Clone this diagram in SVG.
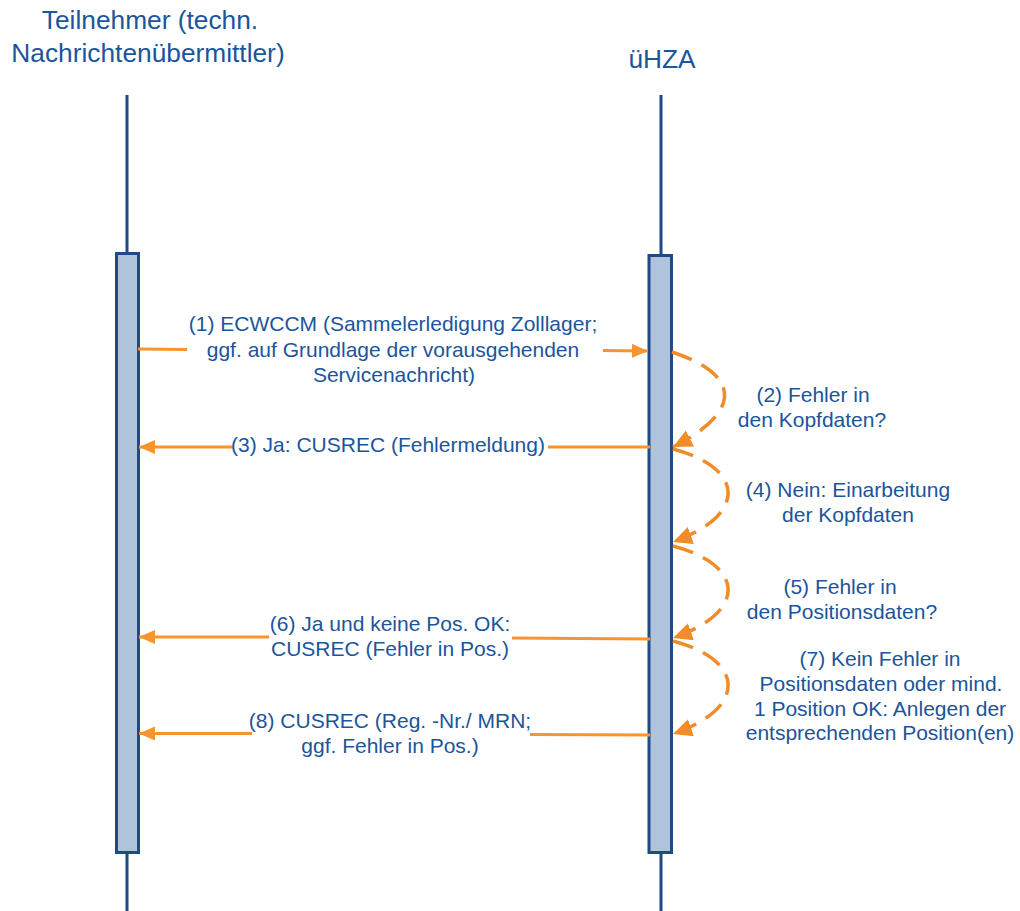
<svg xmlns="http://www.w3.org/2000/svg" width="1020" height="911" viewBox="0 0 1020 911">
<style>
.t{font-family:"Liberation Sans",Arial,sans-serif;fill:#1B559B;text-anchor:middle}
.h{font-size:26.3px}
.b{font-size:21px}
.life{stroke:#1F4A85;stroke-width:3;fill:none}
.bar{fill:#AFC3DC;stroke:#1F4A85;stroke-width:3}
.msg{stroke:#F7942F;stroke-width:3;fill:none}
.self{stroke:#F28C28;stroke-width:3.5;fill:none;stroke-dasharray:21 11}
</style>
<defs>
<marker id="ah" markerUnits="userSpaceOnUse" markerWidth="18" markerHeight="16" refX="16" refY="7" orient="auto">
<path d="M0,0 L16,7 L0,14 z" fill="#F7942F"/>
</marker>
<marker id="ah2" markerUnits="userSpaceOnUse" markerWidth="22" markerHeight="20" refX="19" refY="9" orient="auto">
<path d="M0,0 L19,9 L0,18 z" fill="#F28C28"/>
</marker>
</defs>
<g id="teilnehmer">
<line class="life" x1="127" y1="95" x2="127" y2="911"/>
<rect class="bar" x="116.5" y="253.5" width="22" height="599"/>
<text class="t h" x="150" y="29">Teilnehmer (techn.</text>
<text class="t h" x="148" y="62">Nachrichtenübermittler)</text>
</g>
<g id="uhza">
<line class="life" x1="661" y1="95" x2="661" y2="911"/>
<rect class="bar" x="649" y="255.5" width="22.5" height="597"/>
<text class="t h" x="662" y="68">üHZA</text>
</g>
<g id="connectors">
<path class="msg" d="M138,349 L187,349.4"/>
<path class="msg" d="M603,350.5 L648,351" marker-end="url(#ah)"/>
<path class="msg" d="M650,447 L548,447"/>
<path class="msg" d="M233,447 L139,447" marker-end="url(#ah)"/>
<path class="msg" d="M650,639 L512,638"/>
<path class="msg" d="M269,637 L139,637" marker-end="url(#ah)"/>
<path class="msg" d="M650,735 L530,734.5"/>
<path class="msg" d="M252,733.5 L139,733.5" marker-end="url(#ah)"/>
<path class="self" d="M672,352 C742,375 742,412 673,447" marker-end="url(#ah2)"/>
<path class="self" d="M673,449 C745,468 748,515 673,542" marker-end="url(#ah2)"/>
<path class="self" d="M673,546 C745,565 748,612 673,638" marker-end="url(#ah2)"/>
<path class="self" d="M673,641 C745,660 748,708 673,734" marker-end="url(#ah2)"/>
</g>
<g id="label1">
<text class="t b" x="393" y="331">(1) ECWCCM (Sammelerledigung Zolllager;</text>
<text class="t b" x="393" y="356.5">ggf. auf Grundlage der vorausgehenden</text>
<text class="t b" x="394" y="382">Servicenachricht)</text>
</g>
<g id="label2">
<text class="t b" x="813" y="402">(2) Fehler in</text>
<text class="t b" x="812" y="427">den Kopfdaten?</text>
</g>
<g id="label3">
<text class="t b" x="388" y="452">(3) Ja: CUSREC (Fehlermeldung)</text>
</g>
<g id="label4">
<text class="t b" x="848" y="497">(4) Nein: Einarbeitung</text>
<text class="t b" x="848" y="522">der Kopfdaten</text>
</g>
<g id="label5">
<text class="t b" x="840" y="594">(5) Fehler in</text>
<text class="t b" x="842" y="619">den Positionsdaten?</text>
</g>
<g id="label6">
<text class="t b" x="390" y="631">(6) Ja und keine Pos. OK:</text>
<text class="t b" x="390" y="656">CUSREC (Fehler in Pos.)</text>
</g>
<g id="label7">
<text class="t b" x="880" y="666">(7) Kein Fehler in</text>
<text class="t b" x="881" y="691">Positionsdaten oder mind.</text>
<text class="t b" x="880" y="716">1 Position OK: Anlegen der</text>
<text class="t b" x="880" y="740">entsprechenden Position(en)</text>
</g>
<g id="label8">
<text class="t b" x="390" y="728">(8) CUSREC (Reg. -Nr./ MRN;</text>
<text class="t b" x="390" y="753">ggf. Fehler in Pos.)</text>
</g>
</svg>
